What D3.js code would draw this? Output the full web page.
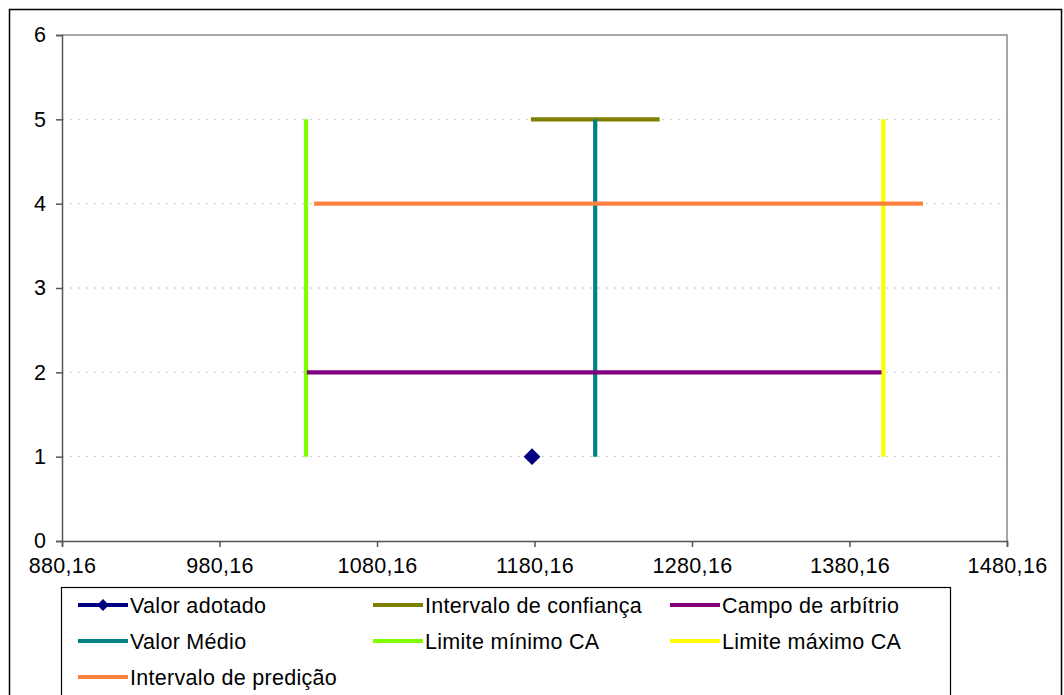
<!DOCTYPE html>
<html><head><meta charset="utf-8">
<script src="https://cdn.jsdelivr.net/npm/d3@7"></script>
<style>body{margin:0;background:#fff}svg{display:block;font-family:"Liberation Sans",Arial,sans-serif}</style>
</head><body>
<svg id="c" width="1064" height="695"></svg>
<script>
const xTicks = [880.16, 980.16, 1080.16, 1180.16, 1280.16, 1380.16, 1480.16];
const yTicks = [0, 1, 2, 3, 4, 5, 6];
const seriesNames = ["Valor adotado","Intervalo de confiança","Campo de arbítrio","Valor Médio","Limite mínimo CA","Limite máximo CA","Intervalo de predição"];
const seriesColors = ["#000080","#808000","#800080","#008080","#80FF00","#FFFF00","#FF8040"];
const valorAdotado = [[1178.6, 1]];
const intervaloConfianca = [[1177.9, 5],[1259.6, 5]];
const campoArbitrio = [[1035.6, 2],[1400.5, 2]];
const valorMedio = [[1218.7, 1],[1218.7, 5]];
const limiteMinimo = [[1035.1, 1],[1035.1, 5]];
const limiteMaximo = [[1401.6, 1],[1401.6, 5]];
const intervaloPredicao = [[1040.2, 4],[1426.8, 4]];

const FS = 21.5;
const svg = d3.select("#c");
svg.append("rect").attr("x",9.5).attr("y",9.5).attr("width",1052).attr("height",700).attr("fill","#fff").attr("stroke","#000").attr("stroke-width",1.5);

const L=62, R=1007, T=35, B=541;
const x = d3.scaleLinear().domain([880.16,1480.16]).range([L,R]);
const y = d3.scaleLinear().domain([0,6]).range([B,T]);

svg.append("g").selectAll("line").data(yTicks.filter(d=>d>0&&d<6)).join("line")
  .attr("x1",L).attr("x2",R).attr("y1",d=>y(d)).attr("y2",d=>y(d))
  .attr("stroke","#c8c8c8").attr("stroke-width",1).attr("stroke-dasharray","2,6");
svg.append("path").attr("d",`M${L},${T}H${R}V${B}`).attr("fill","none").attr("stroke","#8c8c8c").attr("stroke-width",1.5);

const fmt = d => d.toFixed(2).replace(".",",");
const xa = svg.append("g").attr("transform",`translate(0,${B})`)
  .call(d3.axisBottom(x).tickValues(xTicks).tickFormat(fmt).tickSizeOuter(0).tickSize(6));
xa.select(".domain").attr("stroke","#555").attr("stroke-width",1.5);
xa.selectAll(".tick line").attr("stroke","#555").attr("stroke-width",1.5);
xa.selectAll("text").attr("font-size",FS).attr("fill","#000").attr("dy","1.05em").attr("font-family","Liberation Sans, Arial").attr("letter-spacing","0.3px");
const ya = svg.append("g").attr("transform",`translate(${L},0)`)
  .call(d3.axisLeft(y).tickValues(yTicks).tickFormat(d3.format("d")).tickSizeOuter(0).tickSize(6));
ya.select(".domain").attr("stroke","#555").attr("stroke-width",1.5);
ya.selectAll(".tick line").attr("stroke","#555").attr("stroke-width",1.5);
ya.selectAll("text").attr("font-size",FS).attr("fill","#000").attr("x",-16).attr("font-family","Liberation Sans, Arial");

const line = d3.line().x(d=>x(d[0])).y(d=>y(d[1]));
const lines = [[intervaloConfianca,1],[valorMedio,3],[limiteMinimo,4],[limiteMaximo,5],[intervaloPredicao,6],[campoArbitrio,2]];
lines.forEach(([data,i])=>{
  svg.append("path").attr("d",line(data)).attr("fill","none")
    .attr("stroke",seriesColors[i]).attr("stroke-width",4.2).attr("stroke-linecap","butt");
});
const diamond = d3.symbol().type(d3.symbolDiamond2).size(180);
svg.selectAll(".pt").data(valorAdotado).join("path")
  .attr("d",diamond).attr("transform",d=>`translate(${x(d[0])},${y(d[1])})`).attr("fill",seriesColors[0]);

const lg = svg.append("g");
lg.append("rect").attr("x",61.5).attr("y",587.5).attr("width",889).attr("height",130).attr("fill","#fff").attr("stroke","#000").attr("stroke-width",1.2);
const colX=[78,373,670], rowY=[605,641,677];
seriesNames.forEach((n,i)=>{
  const cx=colX[i%3], cy=rowY[Math.floor(i/3)];
  lg.append("line").attr("x1",cx).attr("x2",cx+50).attr("y1",cy).attr("y2",cy).attr("stroke",seriesColors[i]).attr("stroke-width",4.2);
  if(i===0) lg.append("path").attr("d",d3.symbol().type(d3.symbolDiamond2).size(90)).attr("transform",`translate(${cx+25},${cy})`).attr("fill",seriesColors[0]);
  lg.append("text").attr("x",cx+52).attr("y",cy).attr("dy","0.35em").attr("font-size",FS).attr("letter-spacing","0.3px").attr("fill","#000").text(n);
});
</script>
</body></html>
